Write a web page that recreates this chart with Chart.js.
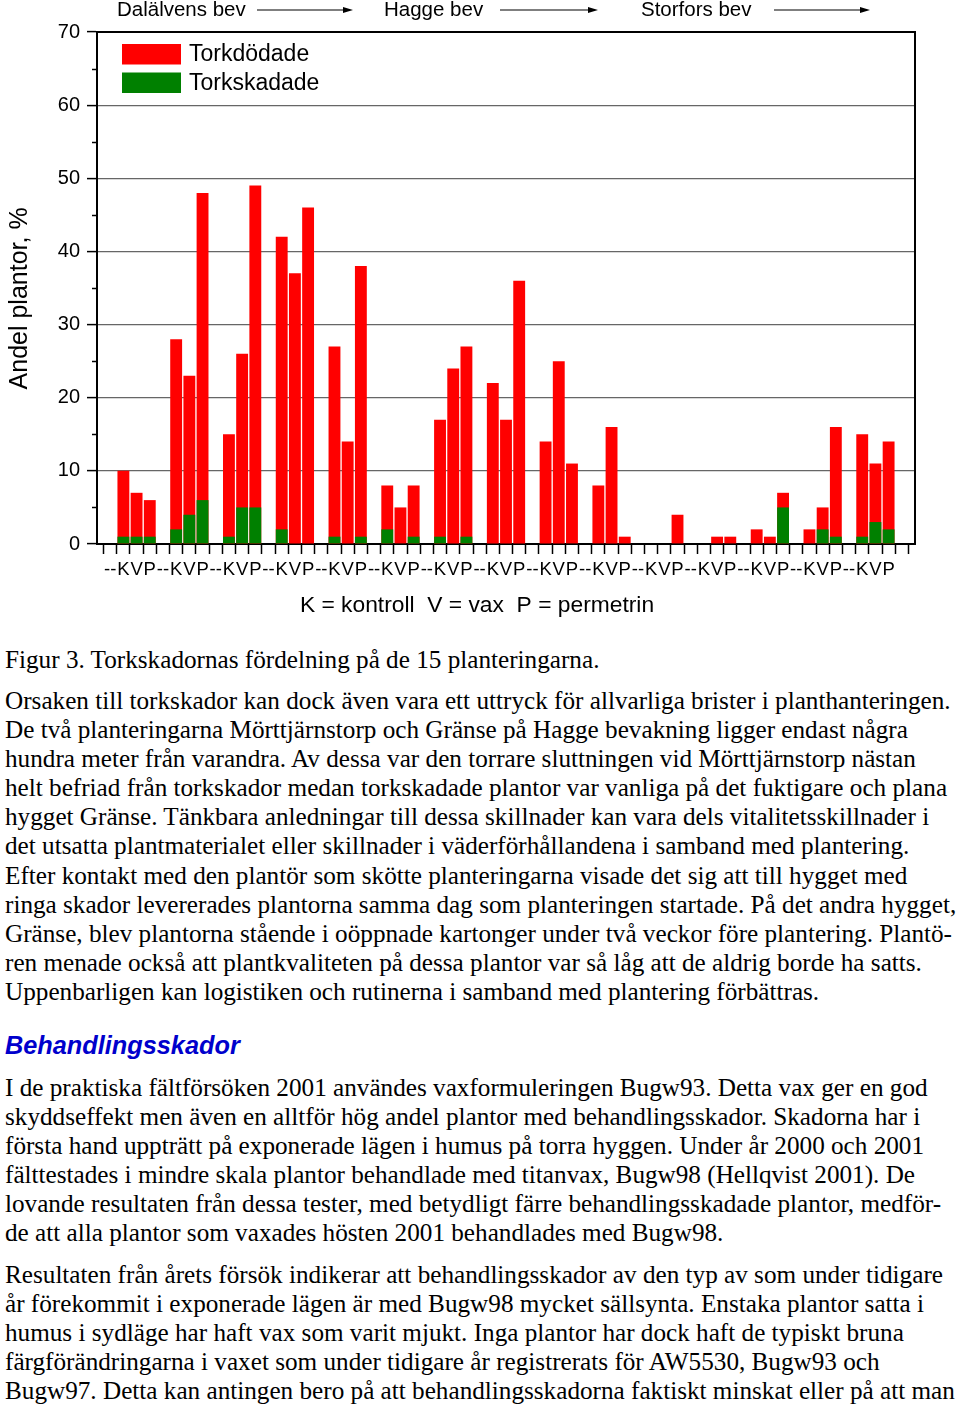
<!DOCTYPE html>
<html>
<head>
<meta charset="utf-8">
<script src="https://cdn.jsdelivr.net/npm/chart.js@4.4.1/dist/chart.umd.min.js"></script>
<style>
  html, body { margin: 0; padding: 0; background: #fff; }
  body { width: 960px; height: 1409px; position: relative; overflow: hidden; }
  #wrap { position: absolute; left: 0; top: 0; width: 960px; height: 630px; }
  .txt { position: absolute; left: 5px; font-family: "Liberation Serif", "Times New Roman", serif; font-size: 25.2px; line-height: 29.1px; color: #000; white-space: nowrap; }
  .head { position: absolute; left: 5px; font-family: "Liberation Sans", Arial, sans-serif; font-weight: bold; font-style: italic; font-size: 25.3px; line-height: 29.1px; color: #0000cc; white-space: nowrap; }
</style>
</head>
<body>
<div id="wrap"><canvas id="c" width="960" height="630"></canvas></div>

<div class="txt" style="top:645px">Figur 3. Torkskadornas fördelning på de 15 planteringarna.</div>
<div class="txt" style="top:686px">Orsaken till torkskador kan dock även vara ett uttryck för allvarliga brister i planthanteringen.<br>De två planteringarna Mörttjärnstorp och Gränse på Hagge bevakning ligger endast några<br>hundra meter från varandra. Av dessa var den torrare sluttningen vid Mörttjärnstorp nästan<br>helt befriad från torkskador medan torkskadade plantor var vanliga på det fuktigare och plana<br>hygget Gränse. Tänkbara anledningar till dessa skillnader kan vara dels vitalitetsskillnader i<br>det utsatta plantmaterialet eller skillnader i väderförhållandena i samband med plantering.<br>Efter kontakt med den plantör som skötte planteringarna visade det sig att till hygget med<br>ringa skador levererades plantorna samma dag som planteringen startade. På det andra hygget,<br>Gränse, blev plantorna stående i oöppnade kartonger under två veckor före plantering. Plantö-<br>ren menade också att plantkvaliteten på dessa plantor var så låg att de aldrig borde ha satts.<br>Uppenbarligen kan logistiken och rutinerna i samband med plantering förbättras.</div>
<div class="head" style="top:1031px">Behandlingsskador</div>
<div class="txt" style="top:1073px">I de praktiska fältförsöken 2001 användes vaxformuleringen Bugw93. Detta vax ger en god<br>skyddseffekt men även en alltför hög andel plantor med behandlingsskador. Skadorna har i<br>första hand uppträtt på exponerade lägen i humus på torra hyggen. Under år 2000 och 2001<br>fälttestades i mindre skala plantor behandlade med titanvax, Bugw98 (Hellqvist 2001). De<br>lovande resultaten från dessa tester, med betydligt färre behandlingsskadade plantor, medför-<br>de att alla plantor som vaxades hösten 2001 behandlades med Bugw98.</div>
<div class="txt" style="top:1260px">Resultaten från årets försök indikerar att behandlingsskador av den typ av som under tidigare<br>år förekommit i exponerade lägen är med Bugw98 mycket sällsynta. Enstaka plantor satta i<br>humus i sydläge har haft vax som varit mjukt. Inga plantor har dock haft de typiskt bruna<br>färgförändringarna i vaxet som under tidigare år registrerats för AW5530, Bugw93 och<br>Bugw97. Detta kan antingen bero på att behandlingsskadorna faktiskt minskat eller på att man</div>

<script>
// ---- DATA ----
const treatments = ['K', 'V', 'P'];           // kontroll, vax, permetrin
const plantationCount = 15;
const regions = ['Dalälvens bev', 'Hagge bev', 'Storfors bev'];
// Torkdödade (red), per plantation K,V,P
const torkdodade = [
  10, 7, 6,
  28, 23, 48,
  15, 26, 49,
  42, 37, 46,
  27, 14, 38,
  8, 5, 8,
  17, 24, 27,
  22, 17, 36,
  14, 25, 11,
  8, 16, 1,
  0, 0, 4,
  0, 1, 1,
  2, 1, 7,
  2, 5, 16,
  15, 11, 14
];
// Torkskadade (green), per plantation K,V,P
const torkskadade = [
  1, 1, 1,
  2, 4, 6,
  1, 5, 5,
  2, 0, 0,
  1, 0, 1,
  2, 0, 1,
  1, 0, 1,
  0, 0, 0,
  0, 0, 0,
  0, 0, 0,
  0, 0, 0,
  0, 0, 0,
  0, 0, 5,
  0, 2, 1,
  1, 3, 2
];
const yTicks = [0, 10, 20, 30, 40, 50, 60, 70];

// ---- build slot table: 2 leading slots, then groups of 3 bars + 1 gap ----
const labels = [];
const redData = [];
const greenData = [];
labels.push(''); redData.push(null); greenData.push(null);
labels.push('--'); redData.push(null); greenData.push(null);
for (let g = 0; g < plantationCount; g++) {
  for (let t = 0; t < treatments.length; t++) {
    labels.push(treatments[t]);
    redData.push(torkdodade[g * 3 + t]);
    greenData.push(torkskadade[g * 3 + t]);
  }
  labels.push(g < plantationCount - 1 ? '--' : '');
  redData.push(null); greenData.push(null);
}
labels.push(''); redData.push(null); greenData.push(null);

const FONT = '"Liberation Sans", Arial, sans-serif';

const decor = {
  id: 'decor',
  afterDraw(chart) {
    const ctx = chart.ctx;
    const a = chart.chartArea;
    const ys = chart.scales.y;
    ctx.save();
    // frame top/right
    ctx.strokeStyle = '#000';
    ctx.lineWidth = 2;
    ctx.beginPath();
    ctx.moveTo(a.left, a.top); ctx.lineTo(a.right, a.top); ctx.lineTo(a.right, a.bottom);
    ctx.stroke();
    // minor ticks
    ctx.lineWidth = 1.5;
    for (let v = 5; v < 70; v += 10) {
      const y = Math.round(ys.getPixelForValue(v)) + 0.5;
      ctx.beginPath(); ctx.moveTo(a.left - 5, y); ctx.lineTo(a.left, y); ctx.stroke();
    }
    // legend inside plot
    const ds = chart.data.datasets;
    const items = [ds[0], ds[1]];
    ctx.font = '23px ' + FONT;
    ctx.textBaseline = 'middle';
    ctx.textAlign = 'left';
    items.forEach((d, i) => {
      const y = 44 + i * 28.5;
      ctx.fillStyle = d.backgroundColor;
      ctx.fillRect(122, y, 59, 20.5);
      ctx.fillStyle = '#000';
      ctx.fillText(d.label, 189, y + 11);
    });
    // region labels with arrows
    ctx.font = '20.5px ' + FONT;
    const regionPos = [[117, 257, 353], [384, 500, 598], [641, 774, 870]];
    regions.forEach((r, i) => {
      const [tx, x1, x2] = regionPos[i];
      ctx.fillStyle = '#000';
      ctx.fillText(r, tx, 10);
      ctx.lineWidth = 1.2;
      ctx.beginPath(); ctx.moveTo(x1, 10); ctx.lineTo(x2 - 6, 10); ctx.stroke();
      ctx.beginPath(); ctx.moveTo(x2, 10); ctx.lineTo(x2 - 10, 7); ctx.lineTo(x2 - 10, 13); ctx.closePath(); ctx.fill();
    });
    // x axis description
    ctx.font = '22.8px ' + FONT;
    ctx.textAlign = 'center';
    ctx.fillText('K = kontroll  V = vax  P = permetrin', 477, 606);
    ctx.restore();
  }
};

new Chart(document.getElementById('c'), {
  type: 'bar',
  data: {
    labels: labels,
    datasets: [
      { label: 'Torkdödade', data: redData, backgroundColor: '#ff0000', order: 1, grouped: false,
        barPercentage: 0.9, categoryPercentage: 1.0, borderWidth: 0 },
      { label: 'Torkskadade', data: greenData, backgroundColor: '#008000', order: 0, grouped: false,
        barPercentage: 0.9, categoryPercentage: 1.0, borderWidth: 0 }
    ]
  },
  options: {
    responsive: false,
    animation: false,
    events: [],
    layout: { padding: { top: 32, right: 45, left: 0, bottom: 0 } },
    plugins: { legend: { display: false }, tooltip: { enabled: false }, title: { display: false } },
    scales: {
      x: {
        type: 'category',
        offset: false,
        grid: { drawOnChartArea: false, drawTicks: true, tickLength: 10, tickColor: '#000', tickWidth: 1.5 },
        border: { display: true, color: '#000', width: 2 },
        ticks: { autoSkip: false, maxRotation: 0, minRotation: 0, color: '#000', padding: 5,
                 font: { size: 18.5, family: FONT } },
        afterFit(s) { s.height = 86; }
      },
      y: {
        min: 0, max: 70,
        ticks: {
          stepSize: 5, color: '#000', padding: 7,
          font: { size: 20, family: FONT },
          callback: (v) => (yTicks.includes(v) ? String(v) : '')
        },
        grid: {
          tickLength: 10,
          tickWidth: 1.5,
          lineWidth: 1.2,
          color: (c) => { const v = c.tick && c.tick.value; return (v % 10 === 0 && v !== 0 && v !== 70) ? '#666666' : 'rgba(0,0,0,0)'; },
          tickColor: (c) => { const v = c.tick && c.tick.value; return (v % 10 === 0) ? '#000' : 'rgba(0,0,0,0)'; }
        },
        border: { display: true, color: '#000', width: 2 },
        title: { display: true, text: 'Andel plantor, %\u00a0\u00a0\u00a0', color: '#000', font: { size: 25, family: FONT },
                 padding: { top: 5, bottom: 0 } },
        afterFit(s) { s.width = 97; }
      }
    }
  },
  plugins: [decor]
});
</script>
</body>
</html>
